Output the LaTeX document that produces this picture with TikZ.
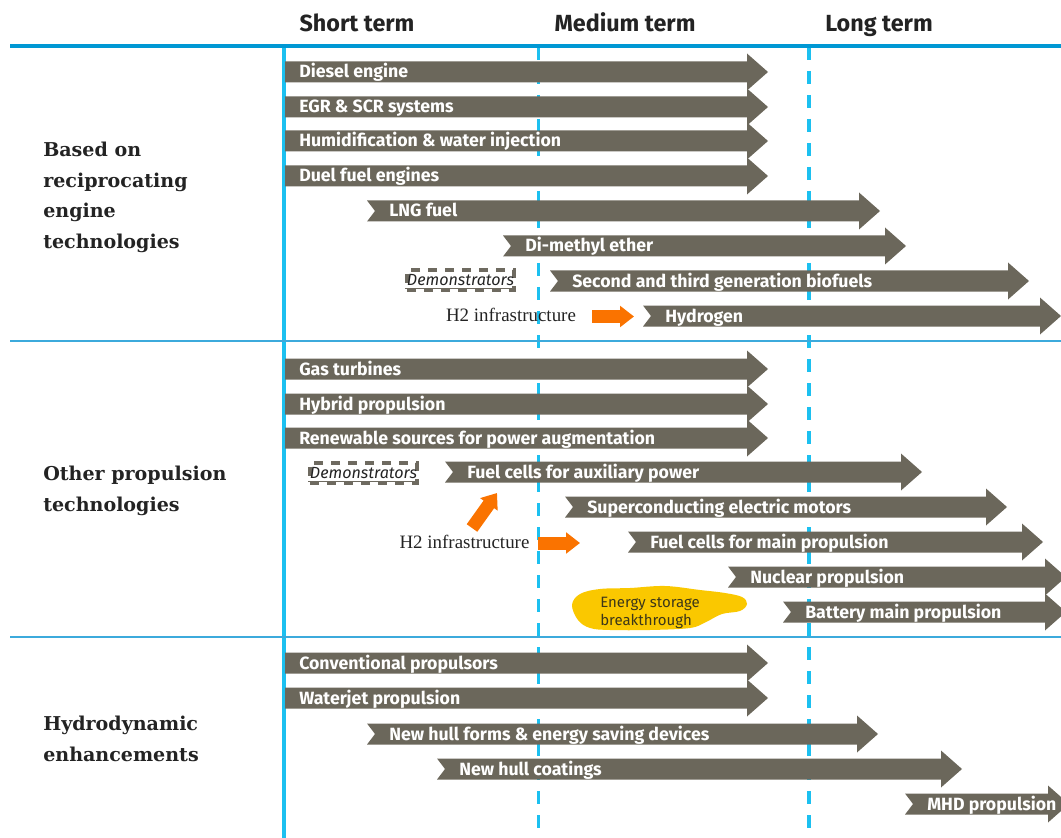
\documentclass[tikz,border=0pt]{standalone}
\usepackage{fontspec}
\setmainfont{Liberation Serif}
\setsansfont{Fira Sans}
\newfontfamily\dejaserif{DejaVu Serif}
\usetikzlibrary{arrows.meta}
\definecolor{arrgray}{RGB}{107,103,91}
\definecolor{headblue}{RGB}{0,152,212}
\definecolor{cyanline}{RGB}{28,192,240}
\definecolor{sepblue}{RGB}{60,170,220}
\definecolor{orng}{RGB}{250,115,0}
\definecolor{blobyellow}{RGB}{250,200,0}
\definecolor{demogray}{RGB}{110,106,96}
\definecolor{txtdark}{RGB}{35,35,35}
\definecolor{blobtext}{RGB}{60,55,25}
\tikzset{
 arrtext/.style={font=\sffamily\bfseries\fontsize{13.3}{16}\selectfont, text=white, inner sep=0pt, anchor=base west},
 headtext/.style={font=\sffamily\bfseries\fontsize{17.5}{20}\selectfont, text=txtdark, anchor=base, inner sep=0pt},
 sectext/.style={font=\dejaserif\bfseries\fontsize{14.3}{22.9}\selectfont, text=txtdark, align=left, anchor=north west, inner sep=0pt},
 h2text/.style={font=\fontsize{14.2}{16}\selectfont, text=txtdark, anchor=base, inner sep=0pt},
 demobox/.style={draw=demogray, line width=2.5pt, dash pattern=on 6.75pt off 6pt, minimum width=80.25pt, minimum height=15pt, inner sep=0pt,
   font=\sffamily\itshape\fontsize{12.1}{14}\selectfont, text=txtdark},
 orangearr/.style={draw=orng, line width=9.75pt, line cap=butt, -{Triangle[length=10.5pt,width=15.5pt]}},
 cyanrule/.style={draw=cyanline, line width=2.6pt},
 cyandash/.style={cyanrule, dash pattern=on 9.75pt off 8.25pt},
 blobtxt/.style={font=\sffamily\fontsize{11.25}{13.5}\selectfont, text=blobtext, align=left, anchor=north west, inner sep=0pt},
}
\newcommand{\garr}[6]{%
  \fill[arrgray] (#2,#4-10.5) -- (#3-21,#4-10.5) -- (#3-21,#4-18.5) -- (#3,#4) -- (#3-21,#4+18.5) -- (#3-21,#4+10.5) -- (#2,#4+10.5) -- (#2+#5,#4) -- cycle;
  \node[arrtext] (#1) at (#2+#5+14,#4+6) {#6};
}
\begin{document}
\begin{tikzpicture}[x=0.75pt,y=-0.75pt]
\useasboundingbox (0,0) rectangle (1061,838);
\clip (0,0) rectangle (1061,838);
% headers
\node[headtext] (short) at (357,32) {Short term};
\node[headtext] (medium) at (625,32) {Medium term};
\node[headtext] (long) at (879,32) {Long term};
% vertical lines
\coordinate (v1t) at (284,46); \coordinate (v1b) at (284,838);
\coordinate (v2t) at (538.5,47); \coordinate (v2b) at (538.5,838);
\coordinate (v3t) at (809,47); \coordinate (v3b) at (809,838);
\draw[cyanrule] (v1t) -- (v1b);
\draw[cyandash] (v2t) -- (v2b);
\draw[cyandash] (v3t) -- (v3b);
% horizontal rules
\coordinate (hl) at (10,46); \coordinate (hr) at (1061,46);
\draw[headblue, line width=2.6pt] (hl) -- (hr);
\coordinate (s1l) at (10,341); \coordinate (s1r) at (1061,341);
\coordinate (s2l) at (10,637); \coordinate (s2r) at (1061,637);
\draw[sepblue, line width=0.9pt] (s1l) -- (s1r);
\draw[sepblue, line width=0.9pt] (s2l) -- (s2r);
% section labels
\node[sectext] (sec1) at (43,142) {Based on\\reciprocating\\engine\\technologies};
\node[sectext] (sec2) at (43,466) {Other propulsion\\technologies};
\node[sectext] (sec3) at (43,716) {Hydrodynamic\\enhancements};
% section 1 arrows
\garr{diesel}{285}{768}{72}{0}{Diesel engine}
\garr{egr}{285}{768}{107}{0}{EGR \& SCR systems}
\garr{humid}{285}{768}{141}{0}{Humidification \& water injection}
\garr{duel}{285}{768}{176}{0}{Duel fuel engines}
\garr{lng}{367}{880}{211}{8}{LNG fuel}
\garr{dme}{503}{906}{246}{8}{Di-methyl ether}
\garr{bio}{550}{1029}{281}{8}{Second and third generation biofuels}
\garr{hyd}{643}{1061}{316}{8}{Hydrogen}
\node[demobox] (demo1) at (460.5,280) {Demonstrators};
\draw[demogray, line width=0.6pt] ([yshift=2.5pt]demo1.south west) -- ([yshift=2.5pt]demo1.south east);
\node[h2text] (h2a) at (511,321) {H2 infrastructure};
\coordinate (o1s) at (592,316.5); \coordinate (o1e) at (634,316.5);
\draw[orangearr] (o1s) -- (o1e);
% section 2 arrows
\garr{gas}{285}{768}{369}{0}{Gas turbines}
\garr{hybrid}{285}{768}{404}{0}{Hybrid propulsion}
\garr{renew}{285}{768}{438}{0}{Renewable sources for power augmentation}
\garr{fcaux}{445}{922}{472}{8}{Fuel cells for auxiliary power}
\garr{supcon}{565}{1007}{507}{8}{Superconducting electric motors}
\garr{fcmain}{628}{1043}{542}{8}{Fuel cells for main propulsion}
\garr{nuclear}{728}{1066}{577}{8}{Nuclear propulsion}
\garr{battery}{783}{1066}{612}{8}{Battery main propulsion}
\node[demobox] (demo2) at (363.5,473) {Demonstrators};
\draw[demogray, line width=0.6pt] ([yshift=2.5pt]demo2.south west) -- ([yshift=2.5pt]demo2.south east);
\node[h2text] (h2b) at (464.5,548) {H2 infrastructure};
\coordinate (o2s) at (538,543); \coordinate (o2e) at (580,543);
\draw[orangearr] (o2s) -- (o2e);
\coordinate (o3s) at (472,528); \coordinate (o3e) at (497,493);
\draw[orangearr] (o3s) -- (o3e);
% energy storage blob
\fill[blobyellow] plot[smooth cycle, tension=0.6] coordinates {(572,605) (580,594) (600,589) (630,588) (665,586) (700,590) (725,593) (742,597) (747,604) (740,611) (722,614) (706,622) (690,628) (650,630) (610,630) (590,628) (578,620)};
\node[blobtxt] (energy) at (600,596.5) {Energy storage\\breakthrough};
% section 3 arrows
\garr{conv}{285}{768}{663}{0}{Conventional propulsors}
\garr{water}{285}{768}{698}{0}{Waterjet propulsion}
\garr{hullforms}{367}{878}{734}{8}{New hull forms \& energy saving devices}
\garr{coat}{437}{962}{769}{8}{New hull coatings}
\garr{mhd}{905}{1069}{804}{8}{MHD propulsion}
\end{tikzpicture}
\end{document}
